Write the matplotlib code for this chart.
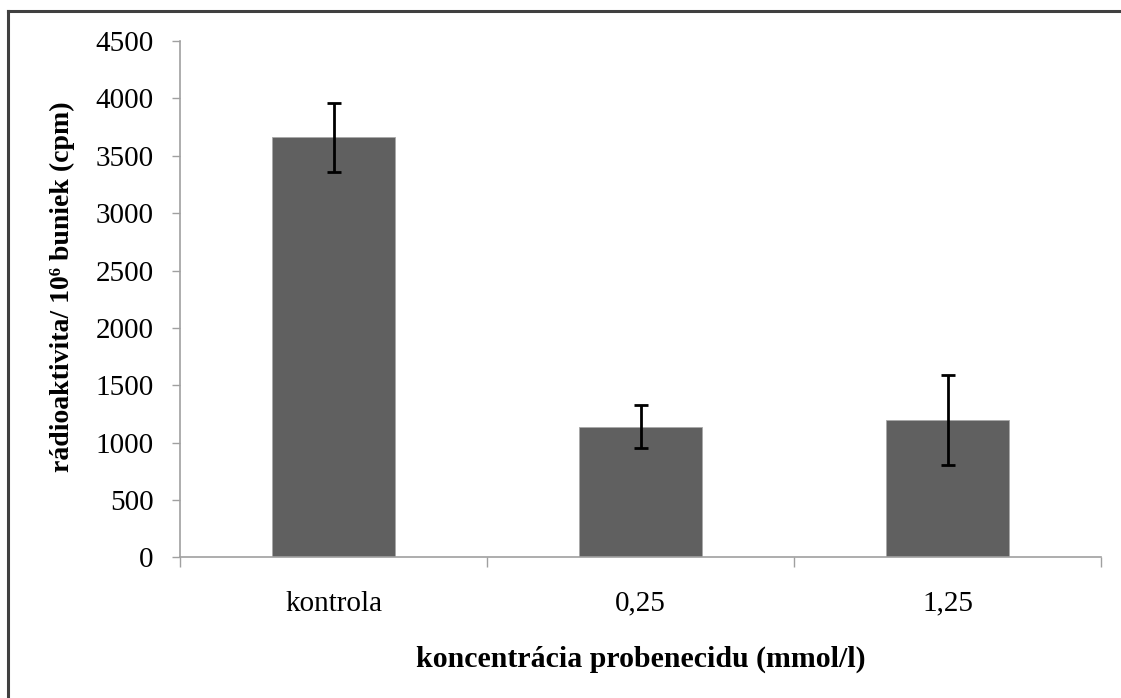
import matplotlib
matplotlib.use("Agg")
import matplotlib.pyplot as plt
from matplotlib.lines import Line2D

categories = ["kontrola", "0,25", "1,25"]
values = [3660, 1140, 1200]
errors = [300, 190, 390]
yticks = [0, 500, 1000, 1500, 2000, 2500, 3000, 3500, 4000, 4500]

plt.rcParams["font.family"] = ["Liberation Serif", "DejaVu Serif"]

fig = plt.figure(figsize=(11.21, 6.98), dpi=100)
ax = fig.add_axes([0.1606, 0.2013, 0.9822 - 0.1606, 0.9413 - 0.2013])

x = list(range(len(categories)))
ax.bar(x, values, width=0.40, color="#606060", edgecolor="#a8a8a8", linewidth=0.6, zorder=2)
ax.errorbar(x, values, yerr=errors, fmt="none", ecolor="black", elinewidth=2.0,
            capsize=4.7, capthick=2.0, zorder=3)

ax.set_xlim(-0.5, len(categories) - 0.5)
ax.set_ylim(0, 4500)
ax.set_yticks(yticks)
ax.set_yticklabels([str(v) for v in yticks])
ax.set_xticks(x)
ax.set_xticklabels(categories)
ax.set_xticks([i - 0.5 for i in range(len(categories) + 1)], minor=True)

for side in ("top", "right"):
    ax.spines[side].set_visible(False)
for side in ("left", "bottom"):
    ax.spines[side].set_color("#a0a0a0")
    ax.spines[side].set_linewidth(1.2)

ax.tick_params(axis="y", which="major", direction="out", length=6, width=1.0,
               color="#a0a0a0", pad=13, labelsize=21)
ax.tick_params(axis="x", which="major", length=0, pad=24, labelsize=21)
ax.tick_params(axis="x", which="minor", direction="out", length=7, width=1.0,
               color="#a0a0a0")

ax.set_xlabel("koncentrácia probenecidu (mmol/l)", fontsize=21.5, fontweight="bold",
              labelpad=21)
ax.set_ylabel("rádioaktivita/ 10⁶ buniek (cpm)", fontsize=20, fontweight="bold")
ax.yaxis.set_label_coords(-0.114, 0.524)

# outer frame of the chart area: its left and top edges
fx = 8 / 1121
fy = 1 - 11 / 698
fig.add_artist(Line2D([fx, fx], [0, fy], transform=fig.transFigure,
                      color="#404040", linewidth=2.2))
fig.add_artist(Line2D([fx, 1], [fy, fy], transform=fig.transFigure,
                      color="#404040", linewidth=2.2))

fig.savefig("out.png", dpi=100)
